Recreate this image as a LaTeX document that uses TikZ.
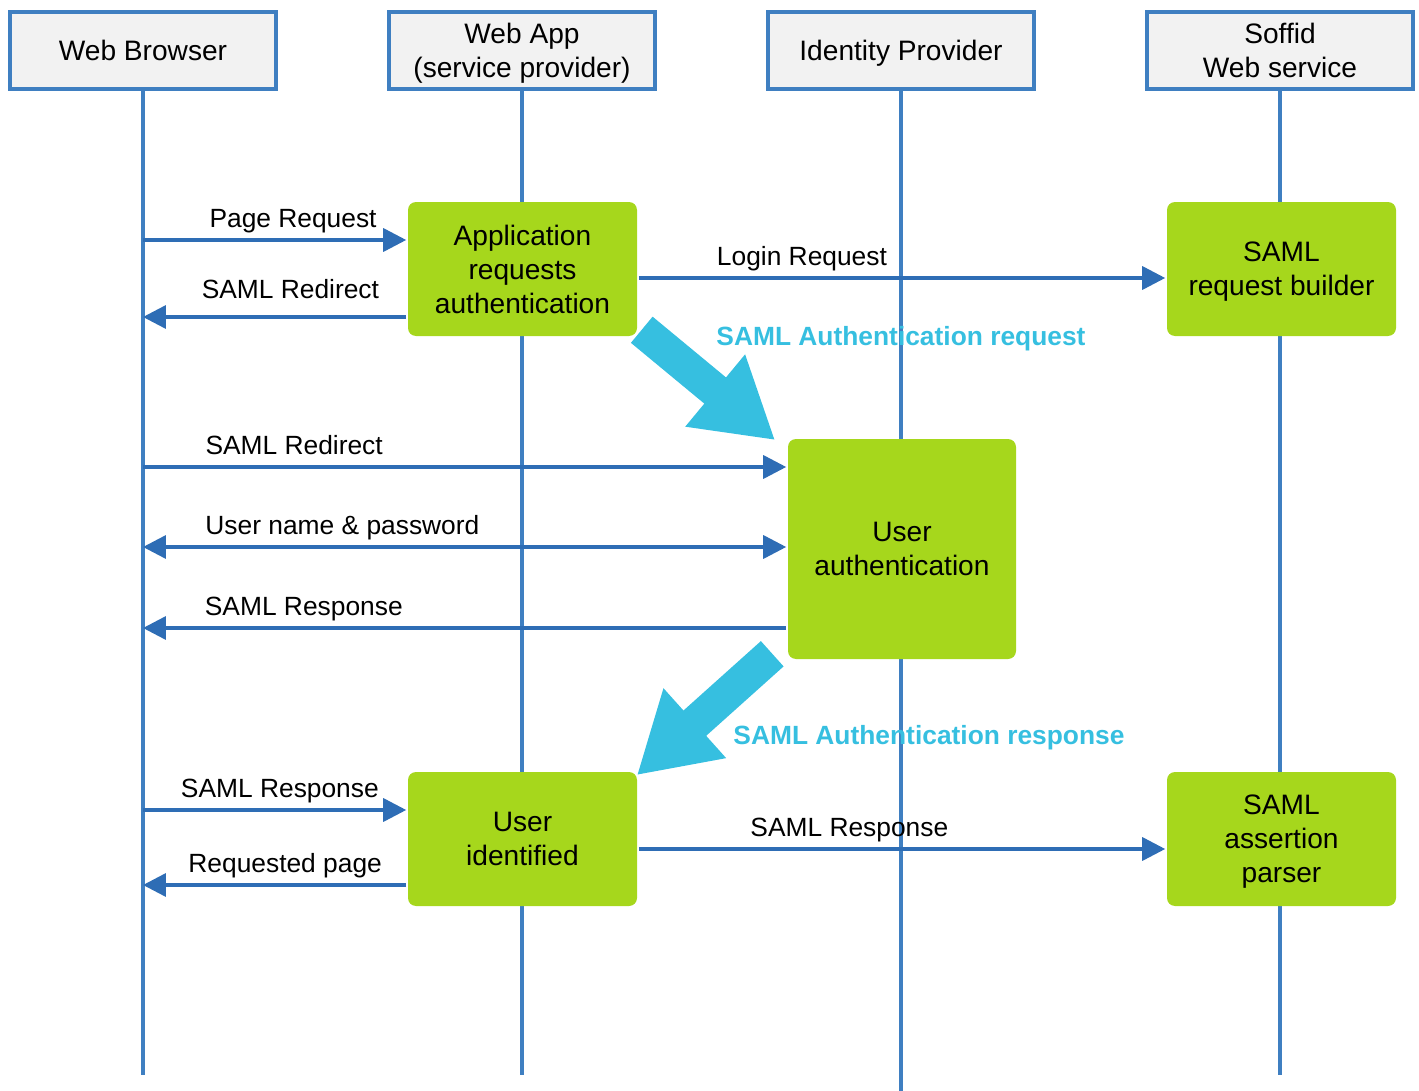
\documentclass[tikz,border=0pt]{standalone}
\usepackage{fontspec}
\setmainfont{Liberation Sans}
\usepackage{tikz}
\usetikzlibrary{arrows.meta, positioning}
\definecolor{lineblue}{HTML}{2E6DB5}
\definecolor{frameblue}{HTML}{3F7FC1}
\definecolor{boxgray}{HTML}{F2F2F2}
\definecolor{actgreen}{HTML}{A6D71C}
\definecolor{bigcyan}{HTML}{36BFE0}

\begin{document}
\begin{tikzpicture}[>={Triangle[length=2.3mm,width=2.3mm]},node distance=3.79cm,
        line width=1pt, every node/.style={font=\fontsize{8}{9.7}\selectfont}]
        \tikzstyle{actor}=[draw=frameblue,fill=boxgray,line width=1pt,minimum width=2.66cm,minimum height=0.77cm,inner sep=1pt,text depth=0pt,align=center]
        \tikzstyle{act}=[fill=actgreen,rounded corners=0.8mm,minimum width=2.29cm,minimum height=1.34cm,text depth=0pt,align=center]
        \tikzstyle{life}=[draw=frameblue]
        \tikzstyle{msg}=[draw=lineblue,->]
        \tikzstyle{lbl}=[font=\fontsize{7.5}{9}\selectfont,above,inner sep=1pt,text depth=2pt]
        \tikzstyle{bigarrow}=[draw=bigcyan,line width=3.4mm,-{Triangle[length=7.8mm,width=8.8mm]}]
        \tikzstyle{note}=[text=bigcyan,font=\fontsize{7.5}{9}\selectfont\bfseries]
        \useasboundingbox (0,0) rectangle (14.19,-10.91);
        \coordinate (bottom) at (0,-10.75);
        % participants
        \node[actor](wb) at (1.43,-0.505){Web Browser};
        \node[actor](wa)[right of=wb]{Web App\\(service provider)};
        \node[actor](idp)[right of=wa]{Identity Provider};
        \node[actor](sws)[right of=idp]{Soffid\\Web service};
        % lifelines
        \draw[life] (wb.south) -- (wb.south |- bottom);
        \draw[life] (wa.south) -- (wa.south |- bottom);
        \draw[life] (idp.south) -- (idp.south |- 0,-10.91);
        \draw[life] (sws.south) -- (sws.south |- bottom);
        % activities
        \node[act](appreq) at (5.225,-2.69){Application\\requests\\authentication};
        \node[act](reqbld) at (12.815,-2.69){SAML\\request builder};
        \node[act,minimum width=2.28cm,minimum height=2.2cm](auth) at (9.02,-5.49){User\\authentication};
        \node[act](ident) at (5.225,-8.39){User\\identified};
        \node[act](parser) at (12.815,-8.39){SAML\\assertion\\parser};
        % messages
        \draw[msg] (wb |- 0,-2.40) -- node[lbl,pos=0.57]{Page Request} (appreq.west |- 0,-2.40);
        \draw[msg] (appreq.west |- 0,-3.17) -- node[lbl,pos=0.44,yshift=1.7pt]{SAML Redirect} (wb |- 0,-3.17);
        \draw[msg] (appreq.east |- 0,-2.78) -- node[lbl,pos=0.31]{Login Request} (reqbld.west |- 0,-2.78);
        \draw[msg] (wb |- 0,-4.67) -- node[lbl,pos=0.235]{SAML Redirect} (auth.west |- 0,-4.67);
        \draw[msg,<->] (wb |- 0,-5.47) -- node[lbl,pos=0.31]{User name \& password} (auth.west |- 0,-5.47);
        \draw[msg] (auth.west |- 0,-6.28) -- node[lbl,pos=0.75]{SAML Response} (wb |- 0,-6.28);
        \draw[msg] (wb |- 0,-8.10) -- node[lbl,pos=0.52]{SAML Response} (ident.west |- 0,-8.10);
        \draw[msg] (ident.west |- 0,-8.85) -- node[lbl,pos=0.46]{Requested page} (wb |- 0,-8.85);
        \draw[msg] (ident.east |- 0,-8.49) -- node[lbl,pos=0.40]{SAML Response} (parser.west |- 0,-8.49);
        % SAML exchange
        \draw[bigarrow] ([shift={(0.03,0.08)}]appreq.south east) -- ([shift={(-0.11,-0.03)}]auth.north west);
        \draw[bigarrow] ([shift={(-0.14,0.07)}]auth.south west) -- ([shift={(-0.02,-0.05)}]ident.north east);
        \node[note](reqnote) at (9.01,-3.39){SAML Authentication request};
        \node[note](respnote) at (9.29,-7.38){SAML Authentication response};
     \end{tikzpicture}
\end{document}
